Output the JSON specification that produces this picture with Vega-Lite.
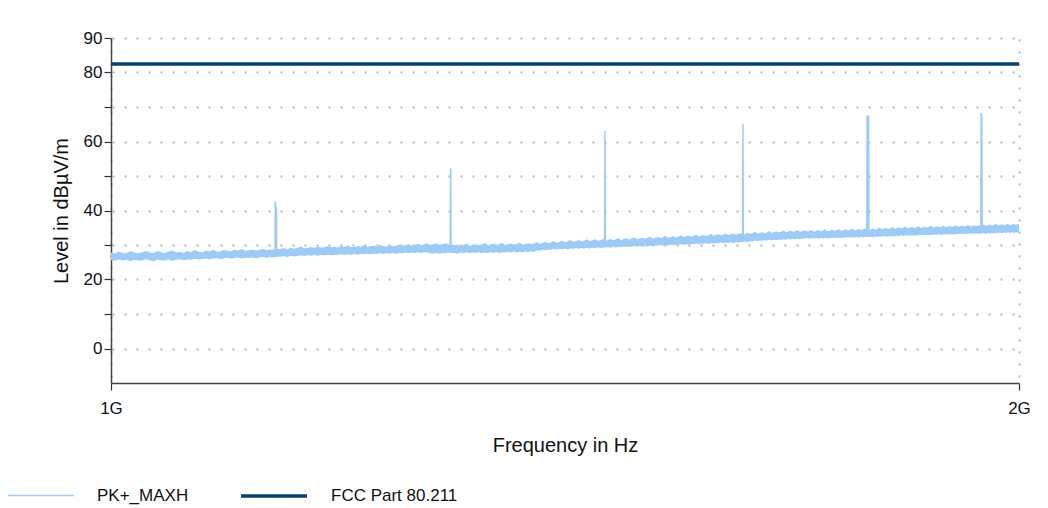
{
"$schema": "https://vega.github.io/schema/vega-lite/v6.json",
"width": 908, "height": 345,
"autosize": {"type": "none"},
"padding": {"left": 111, "top": 38, "right": 29, "bottom": 125},
"background": "white",
"config": {"view": {"stroke": null}, "font": "Liberation Sans",
  "axis": {"labelFont": "Liberation Sans", "titleFont": "Liberation Sans", "labelColor": "#111", "titleColor": "#111", "titleFontWeight": "normal", "domainColor": "#444", "domainWidth": 1.5, "tickColor": "#333", "tickWidth": 1.2, "gridColor": "#b5b5b5", "gridDash": [2, 10], "gridWidth": 2}},
"datasets": {
"pk": [
{"f":1000,"l":25.6,"h":27.6},{"f":1003,"l":25.4,"h":27.3},{"f":1006,"l":25.8,"h":27.9},{"f":1009,"l":25.5,"h":27.5},{"f":1012,"l":25.7,"h":27.4},{"f":1015,"l":25.3,"h":28.0},{"f":1018,"l":25.7,"h":27.6},{"f":1021,"l":25.6,"h":27.3},{"f":1024,"l":25.5,"h":27.7},{"f":1027,"l":25.9,"h":28.1},
{"f":1030,"l":25.6,"h":27.6},{"f":1033,"l":25.3,"h":27.5},{"f":1036,"l":25.8,"h":28.0},{"f":1039,"l":25.6,"h":27.7},{"f":1042,"l":25.5,"h":27.4},{"f":1045,"l":25.8,"h":27.9},{"f":1048,"l":25.4,"h":28.2},{"f":1051,"l":25.7,"h":27.6},{"f":1054,"l":25.9,"h":27.8},{"f":1057,"l":25.6,"h":27.5},
{"f":1060,"l":25.8,"h":28.0},{"f":1063,"l":25.7,"h":27.7},{"f":1066,"l":26.0,"h":28.3},{"f":1069,"l":25.8,"h":27.8},{"f":1072,"l":25.9,"h":27.6},{"f":1075,"l":26.1,"h":28.1},{"f":1078,"l":25.8,"h":27.9},{"f":1081,"l":26.0,"h":28.4},{"f":1084,"l":26.2,"h":27.9},{"f":1087,"l":25.9,"h":28.0},
{"f":1090,"l":26.1,"h":28.3},{"f":1093,"l":26.3,"h":28.1},{"f":1096,"l":26.0,"h":27.9},{"f":1099,"l":26.2,"h":28.4},{"f":1102,"l":26.4,"h":28.2},{"f":1105,"l":26.1,"h":28.6},{"f":1108,"l":26.3,"h":28.1},{"f":1111,"l":26.2,"h":28.3},{"f":1114,"l":26.4,"h":28.5},{"f":1117,"l":26.1,"h":28.2},
{"f":1120,"l":26.4,"h":28.4},{"f":1123,"l":26.6,"h":28.7},{"f":1126,"l":26.3,"h":28.3},{"f":1129,"l":26.5,"h":28.5},{"f":1132,"l":26.4,"h":28.4},{"f":1133.4,"l":26.5,"h":28.6},{"f":1133.6,"l":26.5,"h":42.6},{"f":1134.6,"l":26.6,"h":39.8},{"f":1134.8,"l":26.6,"h":28.6},{"f":1138,"l":26.6,"h":28.6},
{"f":1141,"l":26.8,"h":28.9},{"f":1144,"l":26.5,"h":28.5},{"f":1147,"l":26.9,"h":29.0},{"f":1150,"l":26.7,"h":28.7},{"f":1153,"l":26.8,"h":28.9},{"f":1156,"l":27.0,"h":29.3},{"f":1159,"l":26.8,"h":28.8},{"f":1162,"l":27.0,"h":29.0},{"f":1165,"l":26.9,"h":29.2},{"f":1168,"l":27.1,"h":28.9},
{"f":1171,"l":26.9,"h":29.4},{"f":1174,"l":27.1,"h":29.0},{"f":1177,"l":27.0,"h":29.2},{"f":1180,"l":27.2,"h":29.5},{"f":1183,"l":27.0,"h":29.1},{"f":1186,"l":27.2,"h":29.3},{"f":1189,"l":27.1,"h":29.0},{"f":1192,"l":27.3,"h":29.4},{"f":1195,"l":27.1,"h":29.2},{"f":1198,"l":27.3,"h":29.6},
{"f":1201,"l":27.2,"h":29.3},{"f":1204,"l":27.4,"h":29.1},{"f":1207,"l":27.2,"h":29.5},{"f":1210,"l":27.4,"h":29.3},{"f":1213,"l":27.3,"h":29.7},{"f":1216,"l":27.5,"h":29.2},{"f":1219,"l":27.3,"h":29.4},{"f":1222,"l":27.5,"h":29.6},{"f":1225,"l":27.4,"h":29.3},{"f":1228,"l":27.6,"h":29.8},
{"f":1231,"l":27.4,"h":29.5},{"f":1234,"l":27.6,"h":29.3},{"f":1237,"l":27.5,"h":29.7},{"f":1240,"l":27.7,"h":29.4},{"f":1243,"l":27.5,"h":29.6},{"f":1246,"l":27.7,"h":29.9},{"f":1249,"l":27.6,"h":29.5},{"f":1252,"l":27.8,"h":29.7},{"f":1255,"l":27.6,"h":30.0},{"f":1258,"l":27.8,"h":29.6},
{"f":1261,"l":27.7,"h":29.8},{"f":1264,"l":27.9,"h":30.1},{"f":1267,"l":27.7,"h":29.7},{"f":1270,"l":27.9,"h":29.9},{"f":1273,"l":27.8,"h":30.2},{"f":1276,"l":27.6,"h":29.8},{"f":1279,"l":27.5,"h":30.0},{"f":1282,"l":27.7,"h":30.2},{"f":1285,"l":27.5,"h":29.8},{"f":1288,"l":27.7,"h":30.0},
{"f":1291,"l":27.6,"h":30.3},{"f":1294,"l":27.8,"h":29.9},{"f":1295.6,"l":27.7,"h":30.0},{"f":1296,"l":27.7,"h":52.2},{"f":1296.4,"l":27.7,"h":30.0},{"f":1300,"l":27.7,"h":29.7},{"f":1303,"l":27.5,"h":29.9},{"f":1306,"l":27.8,"h":29.6},{"f":1309,"l":27.6,"h":29.8},{"f":1312,"l":27.9,"h":30.2},
{"f":1315,"l":27.6,"h":29.5},{"f":1318,"l":27.8,"h":29.8},{"f":1321,"l":27.7,"h":30.0},{"f":1324,"l":27.9,"h":29.7},{"f":1327,"l":27.6,"h":29.9},{"f":1330,"l":27.8,"h":30.3},{"f":1333,"l":27.7,"h":29.6},{"f":1336,"l":27.9,"h":29.9},{"f":1339,"l":27.7,"h":30.1},{"f":1342,"l":28.0,"h":29.8},
{"f":1345,"l":27.7,"h":30.0},{"f":1348,"l":27.9,"h":30.4},{"f":1351,"l":27.8,"h":29.7},{"f":1354,"l":28.0,"h":30.0},{"f":1357,"l":27.8,"h":30.2},{"f":1360,"l":28.1,"h":29.9},{"f":1363,"l":27.8,"h":30.1},{"f":1366,"l":28.0,"h":30.5},{"f":1369,"l":27.9,"h":29.8},{"f":1372,"l":28.1,"h":30.1},
{"f":1375,"l":27.9,"h":30.3},{"f":1378,"l":28.2,"h":30.0},{"f":1381,"l":28.0,"h":30.2},{"f":1384,"l":28.4,"h":30.6},{"f":1387,"l":28.3,"h":30.1},{"f":1390,"l":28.6,"h":30.4},{"f":1393,"l":28.5,"h":30.7},{"f":1396,"l":28.7,"h":30.3},{"f":1399,"l":28.6,"h":30.5},{"f":1402,"l":28.9,"h":30.9},
{"f":1405,"l":28.7,"h":30.4},{"f":1408,"l":28.9,"h":30.7},{"f":1411,"l":28.8,"h":31.0},{"f":1414,"l":29.0,"h":30.6},{"f":1417,"l":28.8,"h":30.8},{"f":1420,"l":29.0,"h":31.2},{"f":1423,"l":28.9,"h":30.7},{"f":1426,"l":29.1,"h":30.9},{"f":1429,"l":28.9,"h":31.2},{"f":1432,"l":29.1,"h":30.8},
{"f":1435,"l":29.0,"h":31.0},{"f":1438,"l":29.2,"h":31.4},{"f":1441,"l":29.0,"h":30.9},{"f":1444,"l":29.2,"h":31.1},{"f":1447,"l":29.1,"h":31.4},{"f":1450,"l":29.3,"h":31.0},{"f":1453,"l":29.1,"h":31.2},{"f":1456,"l":29.3,"h":31.5},{"f":1457.6,"l":29.3,"h":31.2},{"f":1458,"l":29.3,"h":63.1},
{"f":1458.4,"l":29.3,"h":31.2},{"f":1461,"l":29.4,"h":31.1},{"f":1464,"l":29.2,"h":31.5},{"f":1467,"l":29.5,"h":31.2},{"f":1470,"l":29.3,"h":31.4},{"f":1473,"l":29.5,"h":31.8},{"f":1476,"l":29.4,"h":31.2},{"f":1479,"l":29.6,"h":31.5},{"f":1482,"l":29.4,"h":31.7},{"f":1485,"l":29.6,"h":31.4},
{"f":1488,"l":29.5,"h":31.6},{"f":1491,"l":29.7,"h":32.0},{"f":1494,"l":29.5,"h":31.4},{"f":1497,"l":29.7,"h":31.7},{"f":1500,"l":29.6,"h":31.9},{"f":1503,"l":29.8,"h":31.6},{"f":1506,"l":29.6,"h":31.8},{"f":1509,"l":29.8,"h":32.2},{"f":1512,"l":29.7,"h":31.6},{"f":1515,"l":29.9,"h":31.9},
{"f":1518,"l":29.8,"h":32.1},{"f":1521,"l":30.0,"h":31.8},{"f":1524,"l":29.8,"h":32.0},{"f":1527,"l":30.0,"h":32.4},{"f":1530,"l":29.9,"h":31.8},{"f":1533,"l":30.1,"h":32.1},{"f":1536,"l":29.9,"h":32.3},{"f":1539,"l":30.1,"h":32.0},{"f":1542,"l":30.0,"h":32.2},{"f":1545,"l":30.2,"h":32.6},
{"f":1548,"l":30.0,"h":32.0},{"f":1551,"l":30.2,"h":32.3},{"f":1554,"l":30.1,"h":32.5},{"f":1557,"l":30.3,"h":32.2},{"f":1560,"l":30.2,"h":32.4},{"f":1563,"l":30.4,"h":32.8},{"f":1566,"l":30.2,"h":32.2},{"f":1569,"l":30.4,"h":32.5},{"f":1572,"l":30.3,"h":32.7},{"f":1575,"l":30.5,"h":32.4},
{"f":1578,"l":30.3,"h":32.6},{"f":1581,"l":30.5,"h":33.0},{"f":1584,"l":30.4,"h":32.4},{"f":1587,"l":30.6,"h":32.7},{"f":1590,"l":30.5,"h":32.9},{"f":1593,"l":30.7,"h":32.6},{"f":1596,"l":30.5,"h":32.8},{"f":1599,"l":30.7,"h":33.1},{"f":1602,"l":30.6,"h":32.6},{"f":1605,"l":30.8,"h":32.9},
{"f":1608,"l":30.6,"h":33.1},{"f":1611,"l":30.8,"h":32.8},{"f":1614,"l":30.7,"h":33.0},{"f":1617,"l":30.9,"h":33.2},{"f":1619.6,"l":30.9,"h":32.9},{"f":1620,"l":30.9,"h":65.0},{"f":1620.4,"l":30.9,"h":32.9},{"f":1623,"l":31.0,"h":33.0},{"f":1626,"l":30.9,"h":33.3},{"f":1629,"l":31.1,"h":33.0},
{"f":1632,"l":31.0,"h":33.2},{"f":1635,"l":31.3,"h":33.6},{"f":1638,"l":31.1,"h":33.0},{"f":1641,"l":31.3,"h":33.3},{"f":1644,"l":31.2,"h":33.5},{"f":1647,"l":31.4,"h":33.2},{"f":1650,"l":31.3,"h":33.4},{"f":1653,"l":31.5,"h":33.8},{"f":1656,"l":31.3,"h":33.2},{"f":1659,"l":31.5,"h":33.5},
{"f":1662,"l":31.4,"h":33.7},{"f":1665,"l":31.6,"h":33.4},{"f":1668,"l":31.5,"h":33.6},{"f":1671,"l":31.7,"h":34.0},{"f":1674,"l":31.5,"h":33.4},{"f":1677,"l":31.8,"h":33.7},{"f":1680,"l":31.6,"h":33.9},{"f":1683,"l":31.8,"h":33.6},{"f":1686,"l":31.7,"h":33.8},{"f":1689,"l":31.9,"h":34.1},
{"f":1692,"l":31.7,"h":33.5},{"f":1695,"l":31.9,"h":33.8},{"f":1698,"l":31.8,"h":34.0},{"f":1701,"l":32.0,"h":33.7},{"f":1704,"l":31.8,"h":33.9},{"f":1707,"l":32.0,"h":34.2},{"f":1710,"l":31.9,"h":33.6},{"f":1713,"l":32.0,"h":33.9},{"f":1716,"l":31.8,"h":34.1},{"f":1719,"l":32.1,"h":33.8},
{"f":1722,"l":31.9,"h":34.0},{"f":1725,"l":32.1,"h":34.3},{"f":1728,"l":31.9,"h":33.7},{"f":1731,"l":32.1,"h":34.0},{"f":1734,"l":32.0,"h":34.2},{"f":1737,"l":32.2,"h":33.9},{"f":1740,"l":32.0,"h":34.1},{"f":1743,"l":32.2,"h":34.4},{"f":1746,"l":32.0,"h":33.8},{"f":1749,"l":32.2,"h":34.1},
{"f":1752,"l":32.1,"h":34.3},{"f":1755,"l":32.3,"h":34.0},{"f":1758,"l":32.1,"h":34.2},{"f":1761,"l":32.3,"h":34.5},{"f":1764,"l":32.1,"h":33.9},{"f":1767,"l":32.3,"h":34.2},{"f":1770,"l":32.2,"h":34.4},{"f":1773,"l":32.4,"h":34.1},{"f":1776,"l":32.2,"h":34.3},{"f":1779,"l":32.4,"h":34.6},
{"f":1780.6,"l":32.3,"h":34.2},{"f":1781,"l":32.3,"h":67.3},{"f":1783,"l":32.3,"h":67.3},{"f":1783.4,"l":32.3,"h":34.2},{"f":1786,"l":32.4,"h":34.3},{"f":1789,"l":32.2,"h":34.6},{"f":1792,"l":32.5,"h":34.2},{"f":1795,"l":32.3,"h":34.4},{"f":1798,"l":32.5,"h":34.8},{"f":1801,"l":32.4,"h":34.3},
{"f":1804,"l":32.6,"h":34.5},{"f":1807,"l":32.4,"h":34.7},{"f":1810,"l":32.6,"h":34.4},{"f":1813,"l":32.5,"h":34.6},{"f":1816,"l":32.7,"h":35.0},{"f":1819,"l":32.5,"h":34.4},{"f":1822,"l":32.7,"h":34.7},{"f":1825,"l":32.6,"h":34.9},{"f":1828,"l":32.8,"h":34.6},{"f":1831,"l":32.6,"h":34.8},
{"f":1834,"l":32.8,"h":35.1},{"f":1837,"l":32.7,"h":34.6},{"f":1840,"l":32.9,"h":34.8},{"f":1843,"l":32.7,"h":35.0},{"f":1846,"l":32.9,"h":34.7},{"f":1849,"l":32.7,"h":34.9},{"f":1852,"l":32.9,"h":35.2},{"f":1855,"l":32.8,"h":34.7},{"f":1858,"l":33.0,"h":34.9},{"f":1861,"l":32.8,"h":35.1},
{"f":1864,"l":33.0,"h":34.8},{"f":1867,"l":32.8,"h":35.0},{"f":1870,"l":33.0,"h":35.3},{"f":1873,"l":32.9,"h":34.8},{"f":1876,"l":33.1,"h":35.0},{"f":1879,"l":32.9,"h":35.2},{"f":1882,"l":33.1,"h":34.9},{"f":1885,"l":32.9,"h":35.1},{"f":1888,"l":33.1,"h":35.4},{"f":1891,"l":33.0,"h":34.9},
{"f":1894,"l":33.2,"h":35.1},{"f":1897,"l":33.0,"h":35.3},{"f":1900,"l":33.2,"h":35.0},{"f":1903,"l":33.0,"h":35.2},{"f":1906,"l":33.2,"h":35.5},{"f":1909,"l":33.1,"h":35.0},{"f":1912,"l":33.3,"h":35.2},{"f":1915,"l":33.1,"h":35.4},{"f":1918,"l":33.3,"h":35.1},{"f":1921,"l":33.1,"h":35.3},
{"f":1924,"l":33.3,"h":35.6},{"f":1927,"l":33.2,"h":35.0},{"f":1930,"l":33.4,"h":35.3},{"f":1933,"l":33.2,"h":35.5},{"f":1936,"l":33.4,"h":35.2},{"f":1939,"l":33.2,"h":35.4},{"f":1942.6,"l":33.3,"h":35.3},{"f":1943,"l":33.3,"h":68.3},{"f":1944,"l":33.3,"h":67.6},{"f":1944.6,"l":33.3,"h":35.4},
{"f":1947,"l":33.4,"h":35.6},{"f":1950,"l":33.2,"h":35.3},{"f":1953,"l":33.5,"h":35.5},{"f":1956,"l":33.3,"h":35.7},{"f":1959,"l":33.5,"h":35.4},{"f":1962,"l":33.3,"h":35.6},{"f":1965,"l":33.5,"h":35.9},{"f":1968,"l":33.4,"h":35.4},{"f":1971,"l":33.6,"h":35.6},{"f":1974,"l":33.4,"h":35.8},
{"f":1977,"l":33.6,"h":35.5},{"f":1980,"l":33.5,"h":35.7},{"f":1983,"l":33.7,"h":36.0},{"f":1986,"l":33.5,"h":35.5},{"f":1989,"l":33.7,"h":35.7},{"f":1992,"l":33.5,"h":35.9},{"f":1995,"l":33.7,"h":35.6},{"f":1998,"l":33.6,"h":35.8},{"f":2000,"l":33.6,"h":35.9}
],
"limit": [{"f": 1000, "h": 82.5}, {"f": 2000, "h": 82.5}]
},
"encoding": {
  "x": {"field": "f", "type": "quantitative",
    "scale": {"type": "log", "domain": [1000, 2000], "nice": false},
    "axis": {"values": [1000, 2000], "labelExpr": "datum.value / 1000 + 'G'", "labelFontSize": 17, "labelFlush": false, "labelOverlap": false, "tickSize": 7, "labelPadding": 10, "title": "Frequency in Hz", "titleFontSize": 20, "titlePadding": 19, "gridDashOffset": -1}},
  "y": {"field": "h", "type": "quantitative",
    "scale": {"domain": [-10, 90], "nice": false, "zero": false},
    "axis": {"values": [0, 10, 20, 30, 40, 50, 60, 70, 80, 90], "labelExpr": "(datum.value % 20 == 0 || datum.value == 90) ? datum.label : ''", "labelOverlap": false, "labelBound": false, "labelFontSize": 17, "tickSize": 7, "labelPadding": 2, "title": "Level in dBµV/m", "titleFontSize": 20, "titlePadding": 12, "gridDashOffset": -1}}
},
"layer": [
{"data": {"name": "pk"},
 "mark": {"type": "area", "clip": true, "color": "#9dcbf8", "opacity": 1},
 "encoding": {"y2": {"field": "l"}}},
{"data": {"name": "pk"},
 "mark": {"type": "line", "clip": true},
 "encoding": {
  "color": {"datum": "PK+_MAXH", "type": "nominal",
    "scale": {"domain": ["PK+_MAXH", "FCC Part 80.211"], "range": ["#9dcbf8", "#063f7e"]},
    "legend": {"title": null, "orient": "none", "direction": "horizontal", "legendX": -104, "legendY": 423, "symbolType": "stroke", "symbolSize": 4356, "labelOffset": 22, "columnPadding": 45, "labelFontSize": 17, "labelFont": "Liberation Sans", "labelColor": "#111"}},
  "strokeWidth": {"datum": "PK+_MAXH", "type": "nominal",
    "scale": {"domain": ["PK+_MAXH", "FCC Part 80.211"], "range": [1.5, 3.5]},
    "legend": {"title": null, "orient": "none", "direction": "horizontal", "legendX": -104, "legendY": 423, "symbolType": "stroke", "symbolSize": 4356, "labelOffset": 22, "columnPadding": 45, "labelFontSize": 17, "labelFont": "Liberation Sans", "labelColor": "#111"}}
 }},
{"data": {"name": "limit"},
 "mark": {"type": "line", "clip": true},
 "encoding": {
  "color": {"datum": "FCC Part 80.211", "type": "nominal"},
  "strokeWidth": {"datum": "FCC Part 80.211", "type": "nominal"}
 }}
]
}
